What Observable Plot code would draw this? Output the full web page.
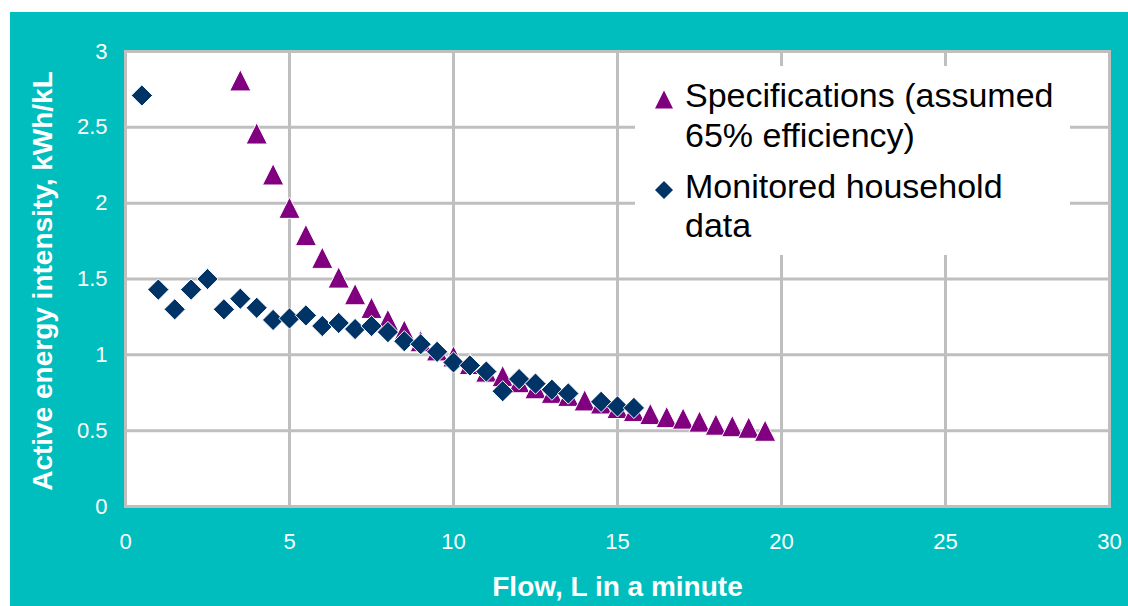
<!DOCTYPE html>
<html>
<head>
<meta charset="utf-8">
<script src="https://cdn.jsdelivr.net/npm/d3@7"></script>
<script src="https://cdn.jsdelivr.net/npm/@observablehq/plot@0.6"></script>
<style>
  html, body { margin: 0; padding: 0; background: #ffffff; width: 1128px; height: 606px; overflow: hidden; }
  #wrap { position: relative; width: 1128px; height: 606px; }
  #bg { position: absolute; left: 10px; top: 12px; width: 1118px; height: 594px; background: #00BEBE; }
  #chart { position: absolute; left: 0; top: 0; }
  #legend { position: absolute; left: 635px; top: 66px; }
</style>
</head>
<body>
<div id="wrap">
  <div id="bg"></div>
  <div id="chart"></div>
  <div id="legend"></div>
</div>
<script>
// ---- data ----
const specX = [3.5, 4, 4.5, 5, 5.5, 6, 6.5, 7, 7.5, 8, 8.5, 9, 9.5, 10, 10.5, 11, 11.5, 12, 12.5, 13, 13.5, 14, 14.5, 15, 15.5, 16, 16.5, 17, 17.5, 18, 18.5, 19, 19.5];
const specY = [2.81, 2.46, 2.19, 1.97, 1.79, 1.64, 1.51, 1.40, 1.31, 1.23, 1.16, 1.09, 1.03, 0.99, 0.94, 0.89, 0.86, 0.82, 0.78, 0.75, 0.73, 0.70, 0.68, 0.65, 0.63, 0.61, 0.59, 0.58, 0.56, 0.54, 0.53, 0.52, 0.50];
const monX = [0.5, 1, 1.5, 2, 2.5, 3, 3.5, 4, 4.5, 5, 5.5, 6, 6.5, 7, 7.5, 8, 8.5, 9, 9.5, 10, 10.5, 11, 11.5, 12, 12.5, 13, 13.5, 14.5, 15, 15.5];
const monY = [2.71, 1.43, 1.30, 1.43, 1.50, 1.30, 1.37, 1.31, 1.23, 1.24, 1.26, 1.19, 1.21, 1.17, 1.19, 1.15, 1.09, 1.07, 1.02, 0.95, 0.93, 0.89, 0.76, 0.84, 0.81, 0.77, 0.745, 0.69, 0.66, 0.65];
const seriesNames = ["Specifications (assumed 65% efficiency)", "Monitored household data"];
const legendLines = [["Specifications (assumed", "65% efficiency)"], ["Monitored household", "data"]];
const xTicks = [0, 5, 10, 15, 20, 25, 30];
const xTickLabels = ["0", "5", "10", "15", "20", "25", "30"];
const yTicks = [0, 0.5, 1, 1.5, 2, 2.5, 3];
const yTickLabels = ["0", "0.5", "1", "1.5", "2", "2.5", "3"];
const xTitle = "Flow, L in a minute";
const yTitle = "Active energy intensity, kWh/kL";

const specData = specX.map((x, i) => ({x, y: specY[i], s: seriesNames[0]}));
const monData = monX.map((x, i) => ({x, y: monY[i], s: seriesNames[1]}));

// custom symbols (bbox-centred like Excel markers)
const triSym = { draw(ctx, size) { const s = Math.sqrt(size); ctx.moveTo(0, -s/2); ctx.lineTo(s/2, s/2); ctx.lineTo(-s/2, s/2); ctx.closePath(); } };
const diaSym = { draw(ctx, size) { const s = Math.sqrt(size); ctx.moveTo(0, -s/2); ctx.lineTo(s/2, 0); ctx.lineTo(0, s/2); ctx.lineTo(-s/2, 0); ctx.closePath(); } };

const PURPLE = "#800080";
const NAVY = "#003366";
const GRID = "#BFBFBF";
const FONT = "'Liberation Sans', Arial, sans-serif";

const plot = Plot.plot({
  width: 1128,
  height: 606,
  marginLeft: 125,
  marginRight: 19,
  marginTop: 51,
  marginBottom: 100,
  style: { fontFamily: FONT, fontSize: "22px", color: "white", background: "transparent", overflow: "visible" },
  x: { domain: [0, 30] },
  y: { domain: [0, 3] },
  marks: [
    Plot.frame({ fill: "white", stroke: null }),
    Plot.gridX(xTicks, { stroke: GRID, strokeOpacity: 1, strokeWidth: 3 }),
    Plot.gridY(yTicks, { stroke: GRID, strokeOpacity: 1, strokeWidth: 3 }),
    Plot.frame({ stroke: GRID, strokeWidth: 3 }),
    Plot.axisX(xTicks, { tickSize: 0, tickPadding: 27, label: null, tickFormat: (d, i) => xTickLabels[i], fill: "white", fontSize: 22 }),
    Plot.axisY(yTicks, { tickSize: 0, tickPadding: 18, label: null, tickFormat: (d, i) => yTickLabels[i], fill: "white", fontSize: 22 }),
    Plot.dot(specData, { x: "x", y: "y", symbol: triSym, r: 12, fill: PURPLE, stroke: "white", strokeWidth: 1 }),
    Plot.dot(monData, { x: "x", y: "y", symbol: diaSym, r: 12, fill: NAVY, stroke: "white", strokeWidth: 1 }),
    Plot.text([xTitle], { frameAnchor: "bottom", textAnchor: "middle", lineAnchor: "middle", dy: 81, fontSize: 28, fontWeight: "bold", fill: "white" }),
    Plot.text([yTitle], { frameAnchor: "left", textAnchor: "middle", lineAnchor: "middle", rotate: -90, dx: -82, dy: 2, fontSize: 28, fontWeight: "bold", fill: "white" })
  ]
});
document.getElementById("chart").appendChild(plot);

// legend
const lg = d3.select("#legend").append("svg").attr("width", 435).attr("height", 189)
  .style("font-family", FONT).style("display", "block");
lg.append("rect").attr("width", 435).attr("height", 189).attr("fill", "white");
const entries = [
  { sym: triSym, color: PURPLE, cy: 33.5, lines: legendLines[0], base: [40.7, 81] },
  { sym: diaSym, color: NAVY, cy: 124, lines: legendLines[1], base: [132, 171] }
];
entries.forEach(e => {
  lg.append("path").attr("d", d3.symbol(e.sym, 18 * 18)()).attr("transform", `translate(29,${e.cy})`).attr("fill", e.color);
  e.lines.forEach((t, j) => {
    lg.append("text").attr("x", 50).attr("y", e.base[j]).attr("font-size", 34).attr("fill", "#000").text(t);
  });
});
</script>
</body>
</html>
